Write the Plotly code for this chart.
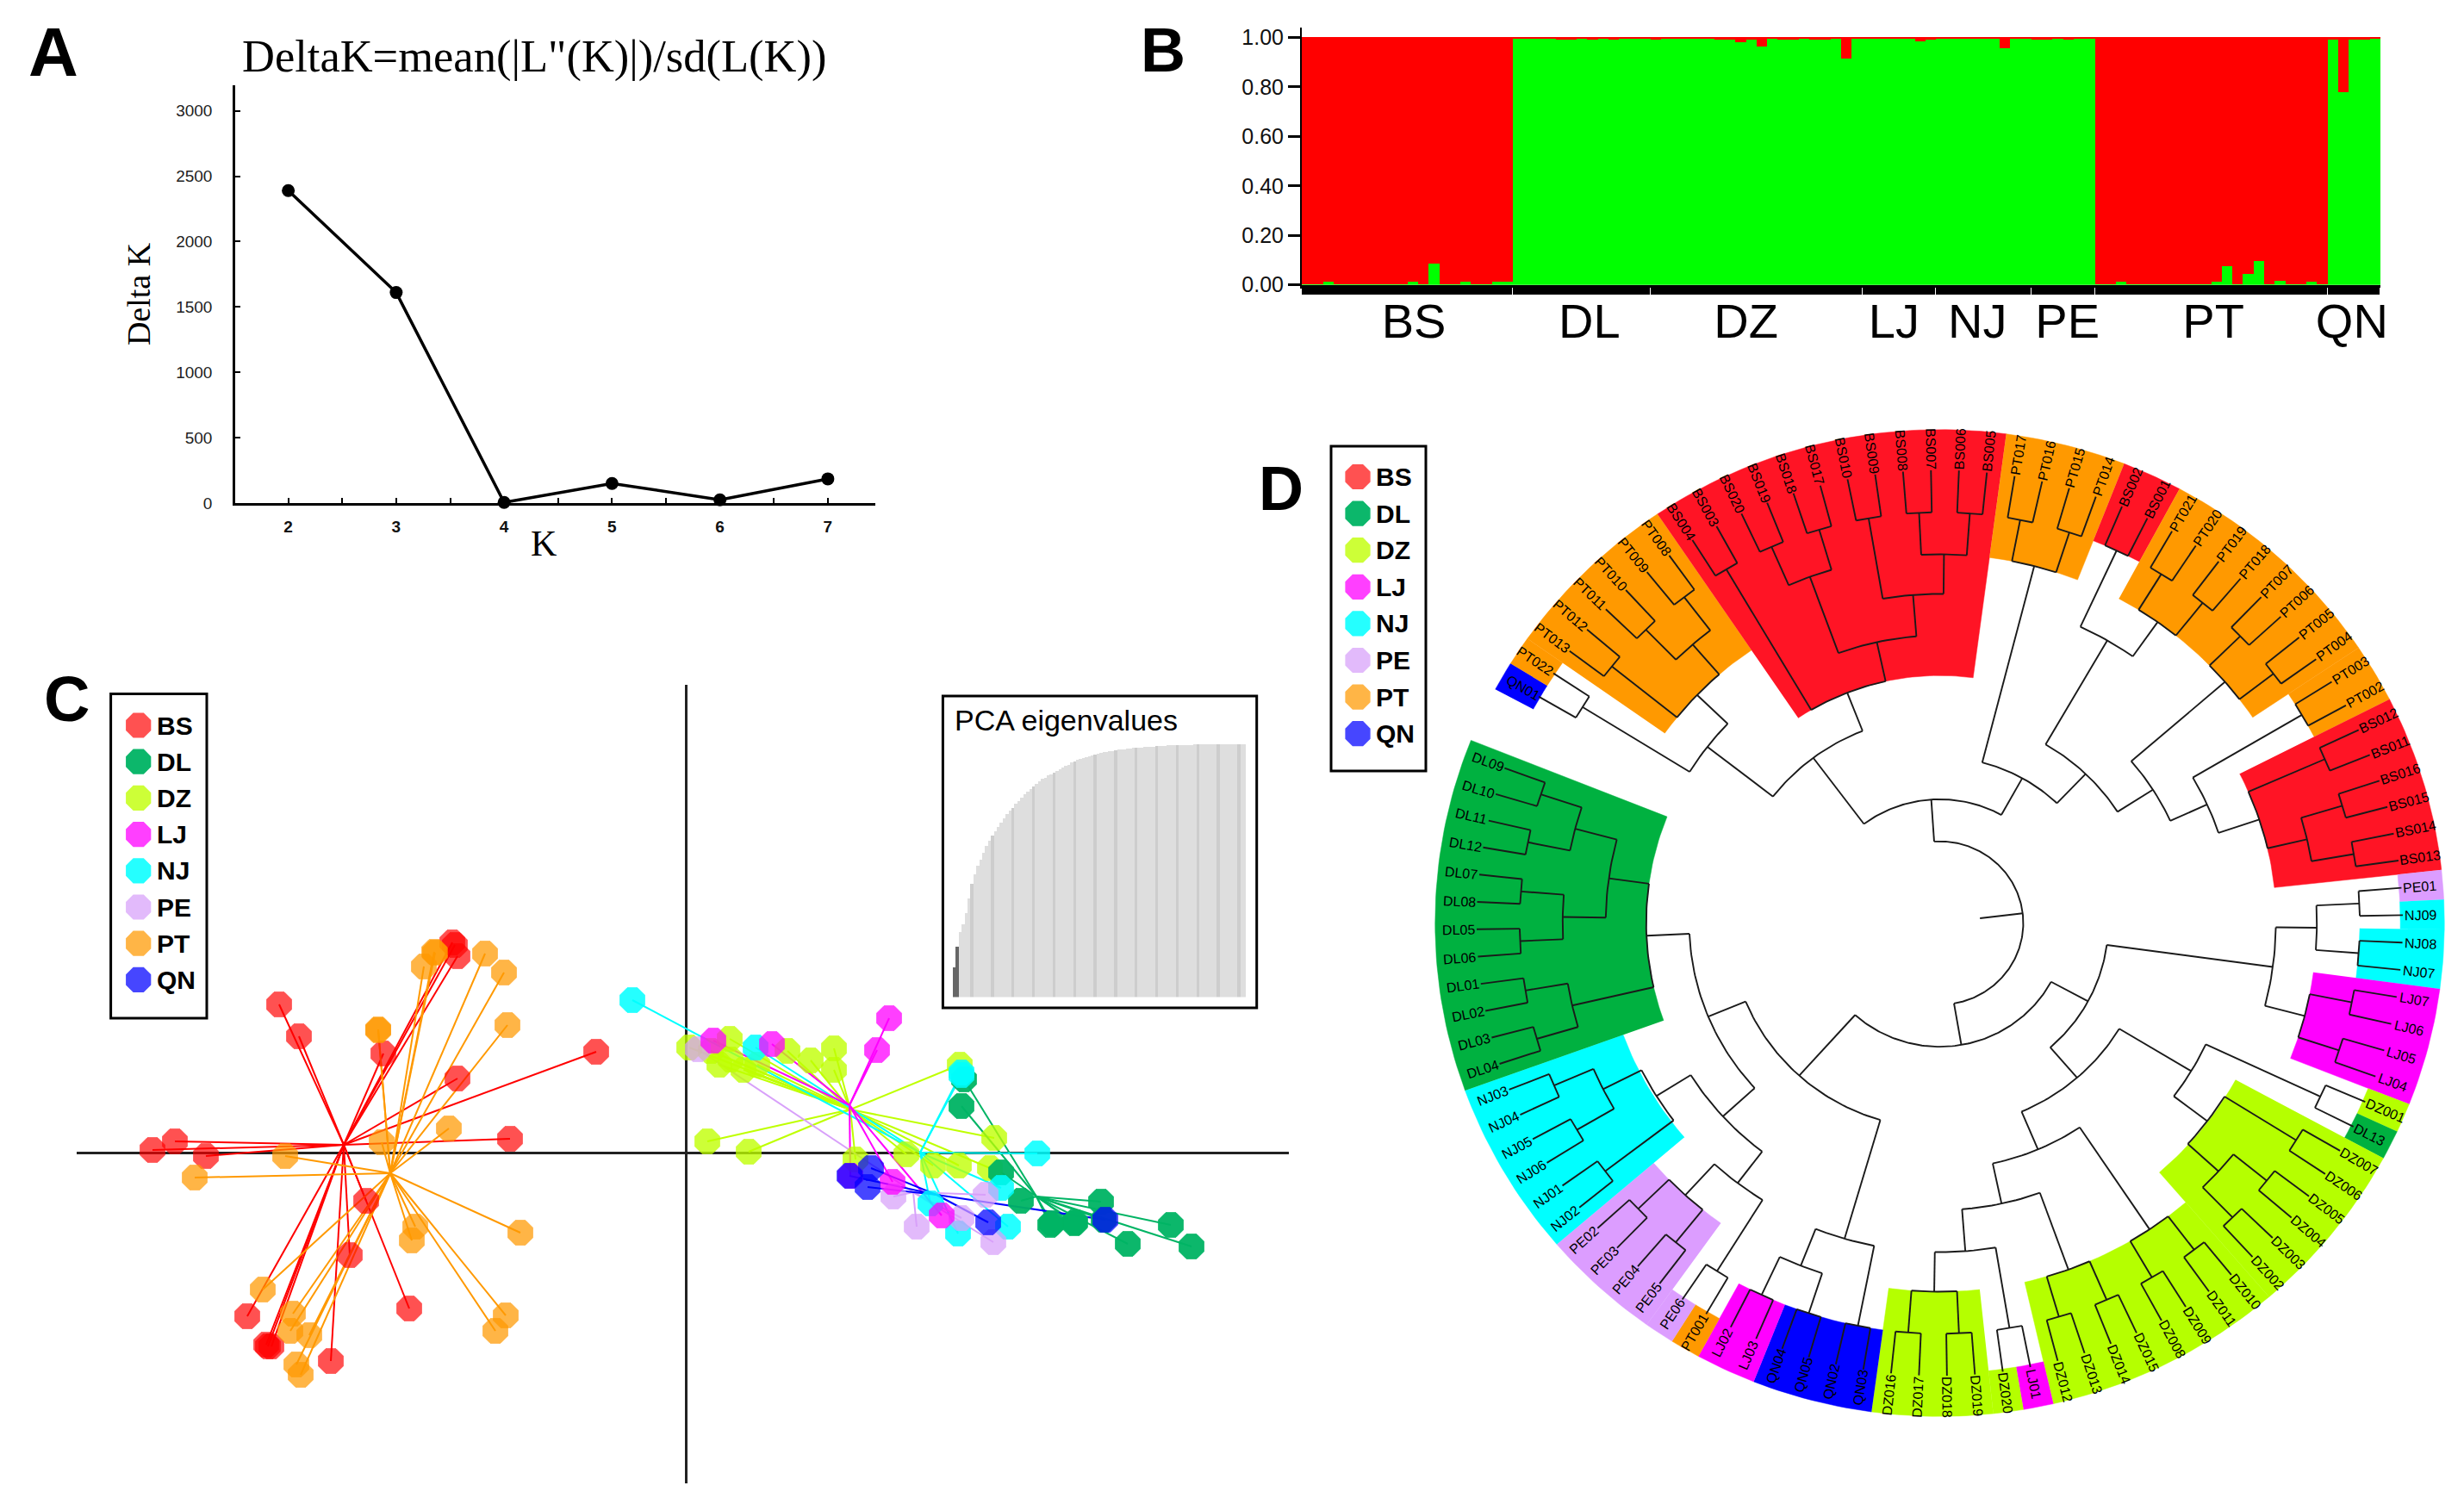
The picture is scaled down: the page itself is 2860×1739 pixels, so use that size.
import numpy as np
import plotly.graph_objects as go

W, H = 2860, 1739

# ---------- Panel A ----------
k_values = [2, 3, 4, 5, 6, 7]
delta_k = [2390, 1610, 5, 150, 25, 185]

# ---------- Panel B ----------
group_names = ["BS", "DL", "DZ", "LJ", "NJ", "PE", "PT", "QN"]
group_sizes = [20, 13, 20, 7, 9, 6, 22, 5]
group_label_pos = [10.6, 27.2, 42.0, 56.0, 63.9, 72.4, 86.2, 99.3]
green_bs = [.002, .002, .012, .002, .002, .002, .002, .002, .002, .002, .012, .002, .085, .002, .002, .012, .002, .002, .012, .012]
green_dl = [.997, .997, .997, .997, .992, .992, .997, .992, .997, .992, .997, .997, .997]
green_dz = [.992, .997, .997, .997, .997, .997, .994, .992, .982, .992, .965, .997, .99, .99, .997, .99, .99, .997, .915, .995]
green_lj = [.997, .997, .997, .997, .997, .985, .992]
green_nj = [.997, .997, .997, .997, .997, .997, .955, .997, .997]
green_pe = [.992, .992, .997, .992, .997, .997]
green_pt = [.002, .002, .012, .002, .002, .002, .002, .002, .002, .002, .002, .012, .075, .002, .045, .098, .002, .018, .002, .002, .012, .002]
green_qn = [.99, .78, .99, .99, .997]

# ---------- Panel C ----------
bs_pc1 = [-2.68, -2.65, -4.72, -4.49, -3.51, -1.04, -2.65, -2.04, -5.93, -6.19, -5.57, -3.71, -3.90, -3.21, -5.09, -4.85, -4.81, -4.12, -2.71, -4.87]
bs_pc2 = [2.41, 2.28, 1.72, 1.35, 1.15, 1.17, 0.86, 0.16, 0.13, 0.03, -0.04, -0.56, -1.19, -1.81, -1.90, -2.25, -2.25, -2.42, 2.44, -2.23]
dl_pc1 = [3.23, 3.20, 3.66, 3.89, 4.82, 4.23, 4.51, 4.85, 5.63, 5.13, 5.87, 4.25, 4.52]
dl_pc2 = [0.85, 0.54, -0.23, -0.56, -0.57, -0.84, -0.82, -0.78, -0.84, -1.06, -1.09, -0.82, -0.81]
dz_pc1 = [0.04, 0.51, 1.18, 1.45, 1.72, 1.72, 0.39, 0.67, 0.83, 0.52, 3.18, 3.58, 0.25, 0.73, 1.97, 2.56, 2.87, 3.17, 3.53, 0.29]
dz_pc2 = [1.22, 1.32, 1.18, 1.07, 1.21, 0.96, 1.02, 0.96, 1.02, 1.08, 1.02, 0.17, 0.13, 0.01, -0.08, -0.02, -0.15, -0.15, -0.18, 1.18]
lj_pc1 = [2.36, 2.22, 0.32, 1.00, 1.91, 2.40, 2.97]
lj_pc2 = [1.56, 1.19, 1.30, 1.26, -0.27, -0.34, -0.73]
nj_pc1 = [-0.62, 0.81, 3.20, 4.08, 3.66, 2.84, 3.74, 3.16, 3.20]
nj_pc2 = [1.77, 1.22, 0.93, -0.01, -0.41, -0.59, -0.86, -0.94, 0.90]
pe_pc1 = [0.14, 2.41, 2.68, 3.20, 3.48, 3.57]
pe_pc2 = [1.20, -0.51, -0.86, -0.76, -0.49, -1.04]
pt_pc1 = [-3.04, -2.92, -2.91, -2.33, -2.11, -2.07, -3.57, -3.57, -2.75, -3.53, -4.65, -5.70, -3.14, -3.18, -1.92, -4.91, -2.09, -2.21, -4.56, -4.59, -4.37, -4.52, -4.47]
pt_pc2 = [2.16, 2.33, 2.32, 2.31, 2.09, 1.48, 1.43, 1.42, 0.28, 0.12, -0.04, -0.29, -0.86, -1.02, -0.93, -1.59, -1.89, -2.07, -1.87, -2.07, -2.12, -2.46, -2.58]
qn_pc1 = [1.90, 2.15, 2.11, 3.51, 4.87]
qn_pc2 = [-0.27, -0.18, -0.40, -0.81, -0.78]
centroid_pc1 = [-3.97, 4.07, 1.91, 1.90, 2.72, 2.64, -3.43, 2.91]
centroid_pc2 = [0.09, -0.51, 0.50, 0.55, 0.00, -0.46, -0.24, -0.49]
eigen_cumulative = [12, 20, 26, 29, 33.5, 39, 45, 48.5, 52, 54.5, 57, 59.7, 62, 64, 65.7, 67.4, 69, 70.8, 72.5, 73.8,
                    75, 76.4, 77.7, 79, 80.3, 81.3, 82.4, 83.5, 84.5, 85.4, 86.3, 86.9, 87.6, 88.2, 88.8, 89.5, 90.1, 90.8, 91.4, 92,
                    92.7, 93.3, 93.8, 94.2, 94.6, 95, 95.3, 95.6, 95.9, 96.2, 96.5, 96.8, 97, 97.2, 97.4, 97.6, 97.8, 98, 98.1, 98.2,
                    98.4, 98.5, 98.6, 98.7, 98.8, 98.9, 99, 99, 99.1, 99.2, 99.3, 99.3, 99.4, 99.5, 99.5, 99.6, 99.6, 99.7, 99.7, 99.8,
                    99.8, 99.8, 99.9, 99.9, 99.9, 99.9, 100, 100, 100, 100, 100, 100, 100, 100, 100, 100, 100, 100, 100, 100]

# ---------- Panel D ----------
leaf_names = ["QN01", "PT022", "PT013", "PT012", "PT011", "PT010", "PT009", "PT008",
              "BS004", "BS003", "BS020", "BS019", "BS018", "BS017", "BS010", "BS009", "BS008", "BS007", "BS006", "BS005",
              "PT017", "PT016", "PT015", "PT014", "BS002", "BS001",
              "PT021", "PT020", "PT019", "PT018", "PT007", "PT006", "PT005", "PT004", "PT003", "PT002",
              "BS012", "BS011", "BS016", "BS015", "BS014", "BS013", "PE01", "NJ09", "NJ08", "NJ07",
              "LJ07", "LJ06", "LJ05", "LJ04", "DZ001", "DL13",
              "DZ007", "DZ006", "DZ005", "DZ004", "DZ003", "DZ002", "DZ010", "DZ011", "DZ009", "DZ008",
              "DZ015", "DZ014", "DZ013", "DZ012", "LJ01", "DZ020", "DZ019", "DZ018", "DZ017", "DZ016",
              "QN03", "QN02", "QN05", "QN04", "LJ03", "LJ02", "PT001", "PE06", "PE05", "PE04", "PE03", "PE02",
              "NJ02", "NJ01", "NJ06", "NJ05", "NJ04", "NJ03",
              "DL04", "DL03", "DL02", "DL01", "DL06", "DL05", "DL08", "DL07", "DL12", "DL11", "DL10", "DL09"]
sector_groups = ["QN", "PT", "PT", "BS", "PT", "BS", "PT", "PT", "BS", "PE", "NJ", "NJ", "LJ", "DZ", "DL", "DZ", "DZ", "LJ", "DZ", "DZ", "QN", "LJ", "PT", "PE", "PE", "NJ", "DL"]
sector_counts = [1, 1, 6, 12, 4, 2, 8, 2, 6, 1, 1, 2, 4, 1, 1, 6, 8, 1, 1, 4, 4, 2, 1, 1, 4, 6, 12]
sector_inner = [.912, .912, .665, .50, .745, .83, .745, .83, .665, .91, .91, .83, .745, .91, .91, .665, .745, .91, .91, .745, .83, .83, .91, .91, .745, .665, .58]
tree_merges = [
    ("q1", "QN01", "PT022", .83), ("p1", "PT013", "PT012", .83), ("p2", "PT011", "PT010", .83), ("p3", "PT009", "PT008", .83),
    ("p4", "p2", "p3", .745), ("p5", "p1", "p4", .665), ("a1", "q1", "p5", .581),
    ("b1", "BS004", "BS003", .83), ("b2", "BS020", "BS019", .83), ("b3", "BS018", "BS017", .83), ("b4", "b2", "b3", .745),
    ("b5", "BS010", "BS009", .83), ("b6", "BS008", "BS007", .83), ("b7", "BS006", "BS005", .83), ("b8", "b6", "b7", .745),
    ("b9", "b5", "b8", .665), ("b10", "b4", "b9", .581), ("b11", "b1", "b10", .50), ("n2", "a1", "b11", .417),
    ("p6", "PT017", "PT016", .83), ("p7", "PT015", "PT014", .83), ("p8", "p6", "p7", .745),
    ("b12", "BS002", "BS001", .83), ("p9", "PT021", "PT020", .83), ("p10", "PT019", "PT018", .83), ("p11", "p9", "p10", .745),
    ("n5", "b12", "p11", .66), ("p12", "PT007", "PT006", .83), ("p13", "PT005", "PT004", .83), ("p14", "p12", "p13", .745),
    ("p15", "PT003", "PT002", .83), ("b13", "BS012", "BS011", .83), ("b14", "BS016", "BS015", .83), ("b15", "BS014", "BS013", .83),
    ("b16", "b14", "b15", .745), ("b17", "b13", "b16", .665), ("n7a", "p15", "b17", .58), ("n6", "p14", "n7a", .50),
    ("n4", "n5", "n6", .417), ("n3", "p8", "n4", .335), ("u", "n2", "n3", .25),
    ("n8a", "PE01", "NJ09", .83), ("n8b", "NJ08", "NJ07", .83), ("n9", "n8a", "n8b", .745),
    ("l1", "LJ07", "LJ06", .83), ("l2", "LJ05", "LJ04", .83), ("l3", "l1", "l2", .745), ("r1", "n9", "l3", .664),
    ("z1", "DZ001", "DL13", .83), ("z2", "DZ007", "DZ006", .83), ("z3", "DZ005", "DZ004", .83), ("z4", "DZ003", "DZ002", .83),
    ("z5", "z3", "z4", .745), ("z6", "z2", "z5", .663), ("z7", "z1", "z6", .58),
    ("z8", "DZ010", "DZ011", .83), ("z9", "DZ009", "DZ008", .83), ("z10", "z8", "z9", .745),
    ("z11", "DZ015", "DZ014", .83), ("z12", "DZ013", "DZ012", .83), ("z13", "z11", "z12", .745),
    ("z14", "LJ01", "DZ020", .83), ("z15", "DZ019", "DZ018", .83), ("z16", "DZ017", "DZ016", .83), ("z17", "z15", "z16", .745),
    ("z18", "z14", "z17", .665), ("z19", "z13", "z18", .58), ("z20", "z10", "z19", .497), ("n8", "z7", "z20", .414), ("n7", "r1", "n8", .333),
    ("q2", "QN03", "QN02", .83), ("q3", "QN05", "QN04", .83), ("l4", "LJ03", "LJ02", .83), ("q4", "q3", "l4", .745), ("n15", "q2", "q4", .665),
    ("pe1", "PE02", "PE03", .83), ("pe2", "PE04", "PE05", .83), ("pe3", "pe1", "pe2", .745), ("pe4", "PE06", "PT001", .83), ("n17", "pe3", "pe4", .66),
    ("nj1", "NJ03", "NJ04", .83), ("nj2", "NJ05", "NJ06", .83), ("nj3", "nj1", "nj2", .745), ("nj4", "NJ01", "NJ02", .83), ("nj5", "nj3", "nj4", .66),
    ("n16", "nj5", "n17", .58),
    ("d1", "DL09", "DL10", .83), ("d2", "DL11", "DL12", .83), ("d3", "d1", "d2", .745),
    ("d4", "DL07", "DL08", .83), ("d5", "DL05", "DL06", .83), ("d6", "d4", "d5", .745), ("d7", "d3", "d6", .66),
    ("d8", "DL01", "DL02", .83), ("d9", "DL03", "DL04", .83), ("d10", "d8", "d9", .745), ("d11", "d7", "d10", .58),
    ("n14", "d11", "n16", .495), ("n13", "n14", "n15", .415), ("l", "n13", "n7", .25), ("root", "u", "l", .165),
]
LEAF_R = .915
ROOT_R = .08
STEP = 350 / 101
TOP_ANGLE = 150.0

PCA_COLORS = dict(BS="#FF0000", DL="#00B464", DZ="#BFFF00", LJ="#FF00FF", NJ="#00FFFF", PE="#D8A0FA", PT="#FF9900", QN="#0000FF")
PCA_OPACITY = dict(BS=.68, DL=.95, DZ=.78, LJ=.75, NJ=.85, PE=.72, PT=.72, QN=.72)
TREE_COLORS = dict(BS="#FF1425", DL="#00B140", DZ="#B5FF00", LJ="#FF00FF", NJ="#00FFFF", PE="#DC9DFF", PT="#FF9900", QN="#0000FF")
SANS = "Liberation Sans"
SERIF = "Liberation Serif"


def dom_x(a, b):
    return [a / W, b / W]


def dom_y(top, bottom):
    return [1 - bottom / H, 1 - top / H]


fig = go.Figure()

# Panel A
fig.add_trace(go.Scatter(x=k_values, y=delta_k, mode="lines+markers", xaxis="x", yaxis="y",
                         line=dict(color="black", width=3.5), marker=dict(color="black", size=15), cliponaxis=False))

# Panel B
green_all = green_bs + green_dl + green_dz + green_lj + green_nj + green_pe + green_pt + green_qn
red_all = [1 - g for g in green_all]
ind_x = [i + .5 for i in range(len(green_all))]
fig.add_trace(go.Bar(x=ind_x, y=green_all, width=1, xaxis="x2", yaxis="y2", marker=dict(color="#00FF00", line=dict(width=0))))
fig.add_trace(go.Bar(x=ind_x, y=red_all, width=1, xaxis="x2", yaxis="y2", marker=dict(color="#FF0000", line=dict(width=0))))
edges = np.cumsum([0] + group_sizes)
fig.add_trace(go.Bar(x=[(edges[i] + edges[i + 1]) / 2 for i in range(len(group_sizes))], y=[1] * len(group_sizes), width=group_sizes,
                     xaxis="x3", yaxis="y3", marker=dict(color="black", line=dict(color="white", width=1.5))))

# Panel C
pca_sets = [(bs_pc1, bs_pc2), (dl_pc1, dl_pc2), (dz_pc1, dz_pc2), (lj_pc1, lj_pc2), (nj_pc1, nj_pc2), (pe_pc1, pe_pc2), (pt_pc1, pt_pc2), (qn_pc1, qn_pc2)]
draw_order = [0, 6, 2, 1, 4, 5, 3, 7]
for g in draw_order:
    px_, py_ = pca_sets[g]
    name = group_names[g]
    sx, sy = [], []
    for a, b in zip(px_, py_):
        sx += [centroid_pc1[g], a, None]
        sy += [centroid_pc2[g], b, None]
    fig.add_trace(go.Scatter(x=sx, y=sy, mode="lines", xaxis="x4", yaxis="y4", line=dict(color=PCA_COLORS[name], width=2), hoverinfo="skip"))
for g in draw_order:
    px_, py_ = pca_sets[g]
    name = group_names[g]
    fig.add_trace(go.Scatter(x=px_, y=py_, mode="markers", name=name, xaxis="x4", yaxis="y4", cliponaxis=False,
                             marker=dict(symbol="octagon", size=31, color=PCA_COLORS[name], opacity=PCA_OPACITY[name], line=dict(color=PCA_COLORS[name], width=1))))

eigen_rank = list(range(1, len(eigen_cumulative) + 1))
eigen_colors = ["#666666" if r <= 2 else ("#CDCDCD" if r % 7 == 0 else "#DEDEDE") for r in eigen_rank]
fig.add_trace(go.Bar(x=eigen_rank, y=eigen_cumulative, width=1, xaxis="x5", yaxis="y5", marker=dict(color=eigen_colors, line=dict(width=0))))

# Panel D
leaf_angle = {n: TOP_ANGLE - STEP * i for i, n in enumerate(leaf_names)}
pos = 0
for grp, cnt, inner in zip(sector_groups, sector_counts, sector_inner):
    a0 = TOP_ANGLE - STEP * (pos - .5)
    a1 = TOP_ANGLE - STEP * (pos + cnt - .5)
    t = np.radians(np.linspace(a0, a1, max(3, int(abs(a1 - a0)) + 2)))
    xs = np.r_[np.cos(t) * .997, np.cos(t[::-1]) * inner]
    ys = np.r_[np.sin(t) * .997, np.sin(t[::-1]) * inner]
    fig.add_trace(go.Scatter(x=xs, y=ys, mode="lines", fill="toself", fillcolor=TREE_COLORS[grp], xaxis="x6", yaxis="y6",
                             line=dict(color=TREE_COLORS[grp], width=.5), hoverinfo="skip"))
    pos += cnt

node_angle = dict(leaf_angle)
node_radius = {n: LEAF_R for n in leaf_names}
tx, ty = [], []
for node, c1, c2, r in tree_merges:
    th1, th2 = node_angle[c1], node_angle[c2]
    node_angle[node] = (th1 + th2) / 2
    node_radius[node] = r
    for c, th in ((c1, th1), (c2, th2)):
        rad = np.radians(th)
        tx += [node_radius[c] * np.cos(rad), r * np.cos(rad), None]
        ty += [node_radius[c] * np.sin(rad), r * np.sin(rad), None]
    arc = np.radians(np.linspace(th1, th2, max(2, int(abs(th1 - th2)) + 2)))
    tx += list(r * np.cos(arc)) + [None]
    ty += list(r * np.sin(arc)) + [None]
root_rad = np.radians(node_angle["root"])
tx += [node_radius["root"] * np.cos(root_rad), ROOT_R * np.cos(root_rad)]
ty += [node_radius["root"] * np.sin(root_rad), ROOT_R * np.sin(root_rad)]
fig.add_trace(go.Scatter(x=tx, y=ty, mode="lines", xaxis="x6", yaxis="y6", line=dict(color="#1a1a1a", width=1.9), hoverinfo="skip"))

annotations = []
for n in leaf_names:
    th = leaf_angle[n]
    norm = ((th + 180) % 360) - 180
    right = -90 <= norm <= 90
    angle = -norm if right else 180 - norm
    width_px = 47 if len(n) == 5 else 38
    rc = .918 + width_px / 2 / 580
    annotations.append(dict(x=rc * np.cos(np.radians(th)), y=rc * np.sin(np.radians(th)), xref="x6", yref="y6", text=n,
                            textangle=angle, showarrow=False, xanchor="center", yanchor="middle",
                            font=dict(family=SANS, size=16, color="black")))


def text_px(x, y, text, size, family=SANS, bold=False, xanchor="center", angle=0, color="black"):
    annotations.append(dict(x=x, y=y, xref="x7", yref="y7", text=f"<b>{text}</b>" if bold else text, showarrow=False,
                            xanchor=xanchor, yanchor="middle", textangle=angle, font=dict(family=family, size=size, color=color)))


# legends
legend_rows_c = [842 + 42.2 * i for i in range(8)]
legend_rows_d = [553.5 + 42.6 * i for i in range(8)]
for rows, mx, tx0 in ((legend_rows_c, 160.7, 180), (legend_rows_d, 1576, 1595)):
    for i, name in enumerate(group_names):
        fig.add_trace(go.Scatter(x=[mx], y=[rows[i]], mode="markers", xaxis="x7", yaxis="y7", hoverinfo="skip",
                                 marker=dict(symbol="octagon", size=30, color=PCA_COLORS[name], opacity=PCA_OPACITY[name], line=dict(color=PCA_COLORS[name], width=1.5))))
        text_px(tx0, rows[i], name, 30, bold=True, xanchor="left")

text_px(620, 65, 'DeltaK=mean(|L"(K)|)/sd(L(K))', 52.5, family=SERIF)
text_px(631, 631, "K", 42, family=SERIF)
text_px(62, 60, "A", 80, bold=True)
text_px(1350, 58, "B", 72, bold=True)
text_px(77, 811, "C", 74, bold=True)
text_px(1487, 567, "D", 72, bold=True)
text_px(1105.6, 836.4, "PCA eigenvalues", 34, xanchor="left")

box = dict(type="rect", xref="x7", yref="y7", line=dict(color="black", width=3), fillcolor="rgba(0,0,0,0)")
shapes = [dict(box, x0=128.6, y0=805.5, x1=240, y1=1182),
          dict(box, x0=1545, y0=518, x1=1655, y1=895),
          dict(box, x0=1094.4, y0=808, x1=1458.7, y1=1170)]

hidden = dict(visible=False, fixedrange=True, automargin=False)
fig.update_layout(
    template="none",
    width=W, height=H, autosize=False, margin=dict(l=0, r=0, t=0, b=0, autoexpand=False), paper_bgcolor="white", plot_bgcolor="rgba(0,0,0,0)",
    showlegend=False, barmode="stack", bargap=0, annotations=annotations, shapes=shapes, hovermode=False,
    xaxis=dict(domain=dom_x(273, 1016), range=[1.508, 7.44], anchor="y", tickvals=k_values, ticks="inside", ticklen=6, tickwidth=2, tickcolor="black",
               showline=True, linecolor="black", linewidth=3, showgrid=False, zeroline=False, ticklabelstandoff=8, automargin=False,
               minor=dict(tickvals=[2.5, 3.5, 4.5, 5.5, 6.5], ticks="inside", ticklen=6, tickwidth=2, tickcolor="black"),
               tickfont=dict(family="Liberation Sans", size=19, color="#111111", weight="bold")),
    yaxis=dict(domain=dom_y(99, 584), range=[0, 3195], anchor="x", tickvals=[0, 500, 1000, 1500, 2000, 2500, 3000], ticks="inside", ticklen=6, tickwidth=2, tickcolor="black",
               showline=True, linecolor="black", linewidth=2.5, showgrid=False, zeroline=False, ticklabelstandoff=20, automargin=False,
               tickfont=dict(family=SANS, size=19, color="#222222"),
               title=dict(text="Delta K", font=dict(family=SERIF, size=38, color="black"), standoff=18)),
    xaxis2=dict(domain=dom_x(1511, 2763), range=[0, 102], anchor="y2", showticklabels=False, ticks="", showline=True, linecolor="black", linewidth=4, showgrid=False, zeroline=False, automargin=False),
    yaxis2=dict(domain=dom_y(32, 330.7), range=[0, 1.04], anchor="x2", tickvals=[0, .2, .4, .6, .8, 1], tickformat=".2f", ticks="outside", ticklen=14, tickwidth=3, tickcolor="black",
                showline=True, linecolor="black", linewidth=2, showgrid=False, zeroline=False, automargin=False, tickfont=dict(family=SANS, size=25, color="#111111")),
    xaxis3=dict(domain=dom_x(1511, 2763), range=[0, 102], anchor="y3", tickvals=group_label_pos, ticktext=group_names, ticks="", showgrid=False, zeroline=False, showline=False, automargin=False,
                tickfont=dict(family=SANS, size=56, color="black"), ticklabelstandoff=-8),
    yaxis3=dict(domain=dom_y(334, 343), range=[0, 1], anchor="x3", visible=False),
    xaxis4=dict(domain=dom_x(89, 1496), range=[-7.07, 7.0], anchor="y4", showticklabels=False, ticks="", showgrid=False, showline=False, zeroline=True, zerolinecolor="#222222", zerolinewidth=3, automargin=False),
    yaxis4=dict(domain=dom_y(795, 1722), range=[-3.84, 5.43], anchor="x4", showticklabels=False, ticks="", showgrid=False, showline=False, zeroline=True, zerolinecolor="#222222", zerolinewidth=3, automargin=False),
    xaxis5=dict(domain=dom_x(1105.6, 1446), range=[.5, 100.5], anchor="y5", **hidden),
    yaxis5=dict(domain=dom_y(863.6, 1157.6), range=[0, 100], anchor="x5", **hidden),
    xaxis6=dict(domain=dom_x(2251.5 - 587.5, 2251.5 + 587.5), range=[-1, 1], anchor="y6", **hidden),
    yaxis6=dict(domain=dom_y(1071.5 - 574.5, 1071.5 + 574.5), range=[-1, 1], anchor="x6", **hidden),
    xaxis7=dict(domain=[0, 1], range=[0, W], anchor="y7", **hidden),
    yaxis7=dict(domain=[0, 1], range=[H, 0], anchor="x7", **hidden),
)

fig.write_html("out.html", config=dict(displayModeBar=False),
               post_script="document.body.style.margin='0';document.documentElement.style.overflow='hidden';")
